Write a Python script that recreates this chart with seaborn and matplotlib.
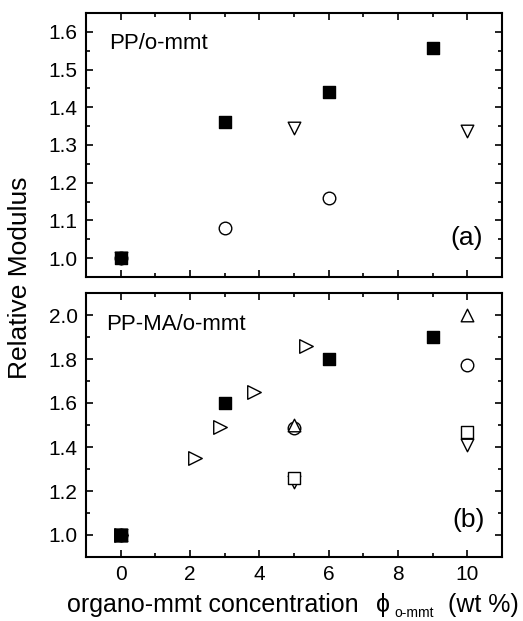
import matplotlib
matplotlib.use("Agg")
import matplotlib.pyplot as plt
from matplotlib.ticker import MultipleLocator
import seaborn as sns
import pandas as pd

# ---- data: panel (a) PP/o-mmt ----
a_fill_sq_x = [0, 3, 6, 9]
a_fill_sq_y = [1.00, 1.36, 1.44, 1.558]
a_circle_x = [0, 3, 6]
a_circle_y = [1.00, 1.079, 1.159]
a_tri_down_x = [0, 5, 10]
a_tri_down_y = [1.00, 1.345, 1.338]

# ---- data: panel (b) PP-MA/o-mmt ----
b_fill_sq_x = [0, 3, 6, 9]
b_fill_sq_y = [1.00, 1.60, 1.80, 1.90]
b_tri_right_x = [0, 2.15, 2.86, 3.86, 5.35]
b_tri_right_y = [1.00, 1.35, 1.49, 1.65, 1.86]
b_tri_up_x = [0, 5, 10]
b_tri_up_y = [1.00, 1.50, 2.00]
b_circle_x = [0, 5, 10]
b_circle_y = [1.00, 1.485, 1.775]
b_sq_open_x = [0, 5, 10]
b_sq_open_y = [1.00, 1.26, 1.467]
b_tri_down_x = [0, 5, 10]
b_tri_down_y = [1.00, 1.24, 1.41]

x_ticks = [0, 2, 4, 6, 8, 10]
x_label_main = "organo-mmt concentration"
x_label_phi = "ϕ"
x_label_sub = "o-mmt"
x_label_unit = "(wt %)"
y_label = "Relative Modulus"
label_a = "PP/o-mmt"
label_b = "PP-MA/o-mmt"

sns.set_style("ticks")
plt.rcParams["font.family"] = ["Liberation Sans", "DejaVu Sans"]
plt.rcParams["text.color"] = "black"
plt.rcParams["axes.labelcolor"] = "black"
plt.rcParams["xtick.color"] = "black"
plt.rcParams["ytick.color"] = "black"

W, H = 523, 621
fig = plt.figure(figsize=(W / 100, H / 100), dpi=100)
left = 86 / W
width = (502 - 86) / W
ax_a = fig.add_axes([left, 1 - 277 / H, width, 264 / H])
ax_b = fig.add_axes([left, 1 - 557 / H, width, 264 / H])

MS = 82
LW = 1.0


def pts(ax, xs, ys, marker, filled, s=MS, z=3):
    df = pd.DataFrame({"x": xs, "y": ys})
    sns.scatterplot(data=df, x="x", y="y", ax=ax, marker=marker, s=s,
                    facecolor="black" if filled else "white",
                    edgecolor="black", linewidth=LW, zorder=z)


# panel (a)
pts(ax_a, a_circle_x, a_circle_y, "o", False)
pts(ax_a, a_tri_down_x, a_tri_down_y, "v", False)
pts(ax_a, a_fill_sq_x, a_fill_sq_y, "s", True, z=4)

# panel (b)
pts(ax_b, b_tri_right_x, b_tri_right_y, ">", False, s=95)
pts(ax_b, b_circle_x, b_circle_y, "o", False)
pts(ax_b, b_tri_up_x, b_tri_up_y, "^", False)
pts(ax_b, b_tri_down_x, b_tri_down_y, "v", False)
pts(ax_b, b_sq_open_x, b_sq_open_y, "s", False)
pts(ax_b, b_fill_sq_x, b_fill_sq_y, "s", True, z=4)

for ax in (ax_a, ax_b):
    ax.set_xlim(-1, 11)
    ax.set_xticks(x_ticks)
    ax.xaxis.set_minor_locator(MultipleLocator(1))
    ax.tick_params(which="both", direction="in", top=True, right=True,
                   width=1.2, labelsize=15, pad=6)
    ax.tick_params(which="major", length=5)
    ax.tick_params(which="minor", length=3)
    for sp in ax.spines.values():
        sp.set_linewidth(1.5)
        sp.set_color("black")
    ax.set_xlabel("")
    ax.set_ylabel("")

ax_a.set_ylim(0.95, 1.65)
ax_a.set_yticks([1.0, 1.1, 1.2, 1.3, 1.4, 1.5, 1.6])
ax_a.set_yticklabels(["1.0", "1.1", "1.2", "1.3", "1.4", "1.5", "1.6"])
ax_a.yaxis.set_minor_locator(MultipleLocator(0.05))
ax_a.tick_params(labelbottom=False)

ax_b.set_ylim(0.9, 2.1)
ax_b.set_yticks([1.0, 1.2, 1.4, 1.6, 1.8, 2.0])
ax_b.set_yticklabels(["1.0", "1.2", "1.4", "1.6", "1.8", "2.0"])
ax_b.yaxis.set_minor_locator(MultipleLocator(0.1))

ax_a.text(0.055, 0.864, label_a, transform=ax_a.transAxes, fontsize=16,
          ha="left", va="baseline")
ax_a.text(0.955, 0.148, "(a)", transform=ax_a.transAxes, fontsize=19,
          ha="right", va="center")
ax_b.text(0.048, 0.86, label_b, transform=ax_b.transAxes, fontsize=16,
          ha="left", va="baseline")
ax_b.text(0.959, 0.14, "(b)", transform=ax_b.transAxes, fontsize=19,
          ha="right", va="center")

# x label pieces (baseline at ~612 px)
yb = 1 - 612 / H
fig.text(67 / W, yb, x_label_main, fontsize=18, ha="left", va="baseline")
fig.text(376 / W, yb, x_label_phi, fontsize=18, ha="left", va="baseline")
fig.text(394 / W, 1 - 617 / H, x_label_sub, fontsize=10, ha="left",
         va="baseline")
fig.text(519 / W, yb, x_label_unit, fontsize=18, ha="right", va="baseline")

fig.text(20 / W, 1 - 278 / H, y_label, rotation=90, fontsize=19,
         ha="center", va="center")

fig.savefig("out.png", dpi=100)
